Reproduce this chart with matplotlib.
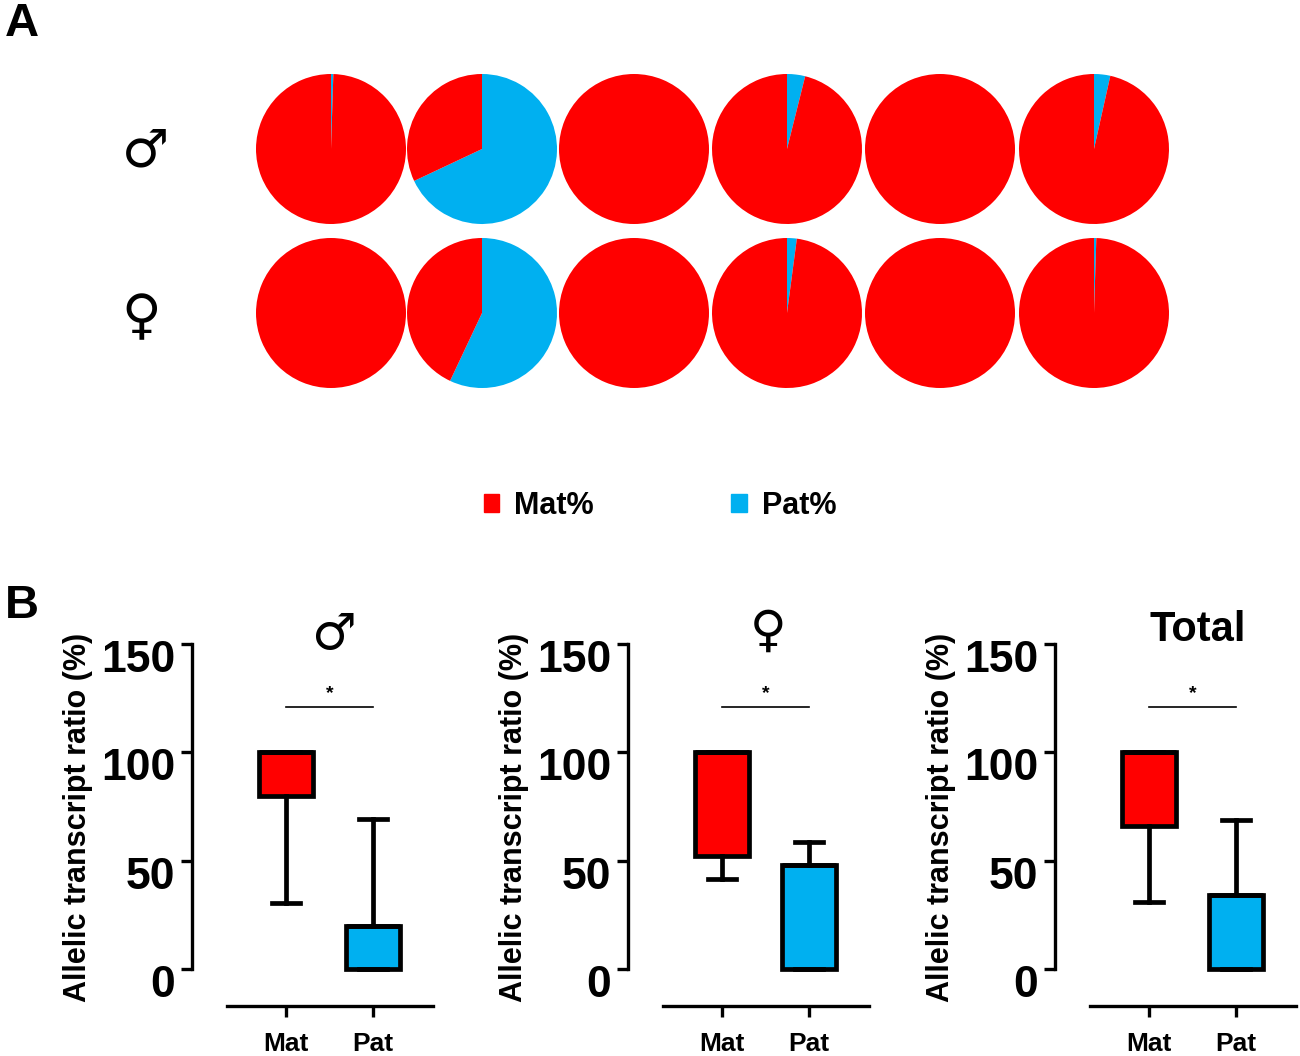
import matplotlib.pyplot as plt
from matplotlib.patches import Patch
from matplotlib.transforms import ScaledTranslation

plt.rcParams['font.family'] = ['Liberation Sans', 'DejaVu Sans']

RED = '#FF0000'
BLUE = '#00B0F0'

# panel A: paternal share (%) per animal, maternal = 100 - pat
male_pat = [0.5, 68, 0, 3.9, 0, 3.5]
female_pat = [0, 57, 0, 2.1, 0, 0.5]

# panel B: min / q1 / q3 / max of the allelic ratio (%)
groups = ['\u2642', '\u2640', 'Total']
mat_stats = [(30.6, 80, 100, 100), (41.5, 52, 100, 100), (31, 66, 100, 100)]
pat_stats = [(0, 0, 20, 69.4), (0, 0, 48, 58.5), (0, 0, 34, 69)]
sig_y = 121

W, H = 1300, 1056
fig = plt.figure(figsize=(W / 100, H / 100), dpi=100)


def px_axes(x0, y0, x1, y1):
    return fig.add_axes([x0 / W, 1 - y1 / H, (x1 - x0) / W, (y1 - y0) / H])


# ---- A: pies
fig.text(5 / W, 1 - 24 / H, 'A', fontsize=34, fontweight='bold', va='center')
pie_x = [331, 482, 634, 787, 940, 1094]
row_y = [149, 313]
r = 75
for row, vals in zip(row_y, [male_pat, female_pat]):
    for cx, p in zip(pie_x, vals):
        ax = px_axes(cx - r, row - r, cx + r, row + r)
        ax.pie([p, 100 - p], colors=[BLUE, RED], startangle=90,
               counterclock=False, wedgeprops=dict(linewidth=0))
        ax.set_xlim(-1, 1)
        ax.set_ylim(-1, 1)
        ax.set_aspect('equal')
fig.text(145 / W, 1 - 151 / H, '\u2642', fontsize=38, ha='center', va='center',
         family='DejaVu Sans')
fig.text(141 / W, 1 - 318 / H, '\u2640', fontsize=39, ha='center', va='center',
         family='DejaVu Sans')

fig.legend(handles=[Patch(color=RED, label='Mat%'), Patch(color=BLUE, label='Pat%')],
           loc='center', bbox_to_anchor=(660 / W, 1 - 506 / H), ncol=2,
           frameon=False, handlelength=0.5, handleheight=0.5, handletextpad=0.5,
           columnspacing=4.5, prop=dict(size=22, weight='bold'))

# ---- B: box plots
fig.text(5 / W, 1 - 606 / H, 'B', fontsize=34, fontweight='bold', va='center')
left_px = [192, 628, 1055]
title_pos = [(333, 635), (768, 632), (1198, 630)]
for i, name in enumerate(groups):
    x0 = left_px[i]
    ax = px_axes(x0, 644, x0 + 241, 1006)
    stats = []
    for s in [mat_stats[i], pat_stats[i]]:
        lo, q1, q3, hi = s
        stats.append(dict(whislo=lo, q1=q1, med=q3, q3=q3, whishi=hi, fliers=[]))
    bp = ax.bxp(stats, positions=[1, 2], widths=0.62, patch_artist=True,
                showfliers=False,
                boxprops=dict(linewidth=3.4, edgecolor='black'),
                whiskerprops=dict(linewidth=3.4, color='black'),
                capprops=dict(linewidth=3.4, color='black'),
                medianprops=dict(linewidth=3.4, color='black'),
                capwidths=0.33)
    for patch, c in zip(bp['boxes'], [RED, BLUE]):
        patch.set_facecolor(c)

    ax.set_xlim(-0.08, 2.69)
    ax.set_ylim(-17, 150)
    for s in ['top', 'right']:
        ax.spines[s].set_visible(False)
    ax.spines['left'].set_bounds(0, 150)
    ax.spines['bottom'].set_bounds(0.322, 2.69)
    ax.spines['left'].set_linewidth(2.4)
    ax.spines['bottom'].set_linewidth(2.4)
    ax.set_yticks([0, 50, 100, 150])
    ax.set_xticks([1, 2])
    ax.set_xticklabels(['Mat', 'Pat'])
    ax.tick_params(axis='y', length=8, width=2.4, labelsize=32, pad=4)
    ax.tick_params(axis='x', length=8, width=2.4, labelsize=19, pad=11)
    off = ScaledTranslation(0, -0.12, fig.dpi_scale_trans)
    for lab in ax.get_yticklabels():
        lab.set_fontweight('bold')
        lab.set_transform(lab.get_transform() + off)
    for lab in ax.get_xticklabels():
        lab.set_fontweight('bold')
    ax.set_ylabel('Allelic transcript ratio (%)', fontsize=22, fontweight='bold')
    ax.yaxis.set_label_coords(-0.41, 0.52)

    ax.plot([1, 2], [sig_y, sig_y], color='black', linewidth=1.2)
    ax.text(1.5, sig_y + 2, '*', ha='center', va='bottom', fontsize=14, fontweight='bold')

    tx, ty = title_pos[i]
    if name == 'Total':
        fig.text(tx / W, 1 - ty / H, name, fontsize=30, fontweight='bold',
                 ha='center', va='center')
    else:
        fig.text(tx / W, 1 - ty / H, name, fontsize=36, ha='center', va='center',
                 family='DejaVu Sans')

fig.savefig('out.png', dpi=100)
